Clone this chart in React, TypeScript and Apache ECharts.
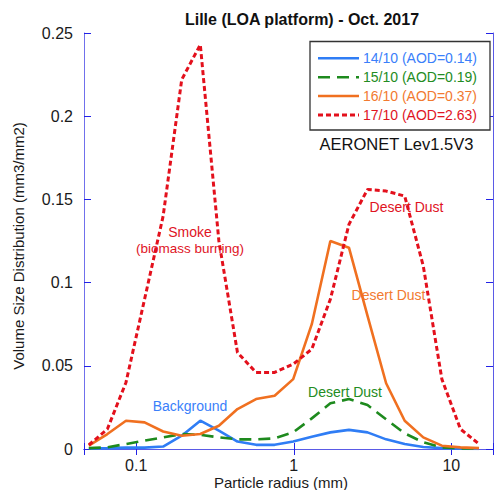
import React, { useEffect, useRef } from "react";
import * as echarts from "echarts";

// AERONET standard radius bins (µm)
const radii = [
  0.05, 0.065604, 0.086077, 0.112939, 0.148184, 0.194429, 0.255105, 0.334716,
  0.439173, 0.576227, 0.756052, 0.991996, 1.301571, 1.707757, 2.240702,
  2.939966, 3.857452, 5.06126, 6.640745, 8.713145, 11.432287, 15.0,
];

const seriesNames = ["14/10 (AOD=0.14)", "15/10 (AOD=0.19)", "16/10 (AOD=0.37)", "17/10 (AOD=2.63)"];

const day14 = [
  0.0003, 0.0005, 0.0008, 0.0008, 0.0015, 0.008, 0.017, 0.011, 0.0045, 0.0025,
  0.0025, 0.0045, 0.0074, 0.01, 0.0115, 0.01, 0.0058, 0.003, 0.0012, 0.0005,
  0.0002, 0.0001,
];
const day15 = [
  0.0005, 0.001, 0.003, 0.005, 0.007, 0.009, 0.0085, 0.007, 0.0058, 0.0058,
  0.0064, 0.01, 0.0184, 0.0275, 0.03, 0.0264, 0.0178, 0.0094, 0.004, 0.001,
  0.0004, 0.0002,
];
const day16 = [
  0.002, 0.009, 0.017, 0.016, 0.0105, 0.008, 0.009, 0.014, 0.024, 0.03, 0.032,
  0.042, 0.075, 0.125, 0.121, 0.08, 0.0395, 0.017, 0.007, 0.002, 0.001, 0.0005,
];
const day17 = [
  0.0024, 0.012, 0.04, 0.09, 0.14, 0.222, 0.243, 0.125, 0.058, 0.046, 0.046,
  0.051, 0.06, 0.09, 0.135, 0.156, 0.155, 0.152, 0.11, 0.042, 0.012, 0.003,
];

const xTickLabels = ["0.1", "1", "10"];
const yTickLabels = ["0", "0.05", "0.1", "0.15", "0.2", "0.25"];

const colors = ["#2f7df5", "#1e8a1e", "#f07020", "#e3101c"];
const textColors = ["#3a80fa", "#238c23", "#f27a30", "#e0141f"];
const FONT = "'Liberation Sans', Arial, Helvetica, sans-serif";

export default function App() {
  const ref = useRef<HTMLDivElement>(null);
  useEffect(() => {
    if (!ref.current) return;
    const chart = echarts.init(ref.current, undefined, { renderer: "svg" });
    const mk = (vals: number[]) => radii.map((r, i) => [r, vals[i]]);
    const allData = [day14, day15, day16, day17];
    const lineStyles: any[] = [
      { width: 2.6, type: "solid" },
      { width: 2.6, type: [12, 7] },
      { width: 2.6, type: "solid" },
      { width: 3, type: [5, 3] },
    ];
    const xFmt = (v: number) => {
      const l = Math.log10(v);
      if (Math.abs(l - Math.round(l)) > 1e-6) return "";
      const s = Math.round(l) < 0 ? "0.1" : String(Math.round(v));
      return xTickLabels.includes(s) ? s : "";
    };
    const yFmt = (v: number) => {
      const s = String(+v.toFixed(2));
      return yTickLabels.includes(s) ? s : "";
    };
    const frameColor = "#5a5ae6";
    const tickColor = "#2222e6";
    const xAxisBase = {
      type: "log",
      logBase: 10,
      min: 0.0466,
      max: 18.4,
      splitLine: { show: false },
      minorTick: { show: false },
      axisTick: { inside: true, length: 6, lineStyle: { color: tickColor, width: 1 } },
    };
    const yAxisBase = {
      type: "value",
      min: 0,
      max: 0.25,
      interval: 0.05,
      splitLine: { show: false },
      axisTick: { inside: true, length: 7, lineStyle: { color: tickColor, width: 1 } },
    };
    const legendRows = [58.3, 77.3, 96, 115];
    const legendGraphics: any[] = [
      {
        type: "rect",
        shape: { x: 310, y: 41.5, width: 180, height: 88.5 },
        style: { fill: "#fff", stroke: "#333", lineWidth: 1.3 },
        z: 10,
      },
    ];
    seriesNames.forEach((n, i) => {
      legendGraphics.push({
        type: "line",
        shape: { x1: 318, y1: legendRows[i], x2: 359, y2: legendRows[i] },
        style: {
          stroke: colors[i],
          lineWidth: lineStyles[i].width,
          lineDash: Array.isArray(lineStyles[i].type) ? lineStyles[i].type : null,
        },
        z: 11,
      });
      legendGraphics.push({
        type: "text",
        x: 363,
        y: legendRows[i],
        style: {
          text: n,
          fill: textColors[i],
          font: `14px ${FONT}`,
          align: "left",
          verticalAlign: "middle",
          textAlign: "left",
          textVerticalAlign: "middle",
        },
        z: 11,
      });
    });
    const txt = (text: string, x: number, y: number, color: string, size: number, extra: any = {}) => ({
      type: "text",
      x,
      y,
      style: {
        text,
        fill: color,
        font: `${extra.bold ? "bold " : ""}${size}px ${FONT}`,
        align: "center",
        verticalAlign: "middle",
        textAlign: "center",
        textVerticalAlign: "middle",
      },
      rotation: extra.rotation || 0,
      z: 1,
    });

    chart.setOption({
      animation: false,
      backgroundColor: "#fff",
      textStyle: { fontFamily: FONT },
      grid: { left: 84, top: 33, right: -4, bottom: 41, containLabel: false },
      xAxis: [
        {
          ...xAxisBase,
          position: "bottom",
          axisLine: { lineStyle: { color: "#1414f0", width: 1 } },
          axisLabel: { formatter: xFmt, fontSize: 16, lineHeight: 16, color: "#1a1a1a", margin: 8, fontFamily: FONT },
        },
        {
          ...xAxisBase,
          position: "top",
          axisLine: { lineStyle: { color: frameColor, width: 1 } },
          axisLabel: { show: false },
        },
      ],
      yAxis: [
        {
          ...yAxisBase,
          position: "left",
          axisLine: { show: true, lineStyle: { color: "#7070ec", width: 1 } },
          axisLabel: { formatter: yFmt, fontSize: 16, color: "#1a1a1a", margin: 11, fontFamily: FONT },
        },
        {
          ...yAxisBase,
          position: "right",
          axisLine: { show: true, lineStyle: { color: frameColor, width: 1 } },
          axisLabel: { show: false },
        },
      ],
      series: allData.map((vals, i) => ({
        name: seriesNames[i],
        type: "line",
        data: mk(vals),
        showSymbol: false,
        symbol: "none",
        lineStyle: { color: colors[i], width: lineStyles[i].width, type: lineStyles[i].type },
        itemStyle: { color: colors[i] },
        z: 2 + i,
      })),
      graphic: [
        txt("Lille (LOA platform) - Oct. 2017", 302, 19.5, "#111", 16, { bold: true }),
        txt("AERONET Lev1.5V3", 396.5, 143.5, "#111", 16.5),
        txt("Particle radius (mm)", 281, 482.5, "#1a1a1a", 15),
        txt("Volume Size Distribution (mm3/mm2)", 18, 246, "#1a1a1a", 15, { rotation: Math.PI / 2 }),
        txt("Smoke", 190, 232, textColors[3], 14),
        txt("(biomass burning)", 190, 248, textColors[3], 13.5),
        txt("Background", 190, 406, textColors[0], 14),
        txt("Desert Dust", 406.5, 207, textColors[3], 14),
        txt("Desert Dust", 388.5, 294.5, textColors[2], 14),
        txt("Desert Dust", 345, 392, textColors[1], 14),
        ...legendGraphics,
      ],
    });
    return () => chart.dispose();
  }, []);
  return (
    <div
      ref={ref}
      style={{ position: "absolute", left: 0, top: 0, width: 496, height: 490, background: "#fff" }}
    />
  );
}
